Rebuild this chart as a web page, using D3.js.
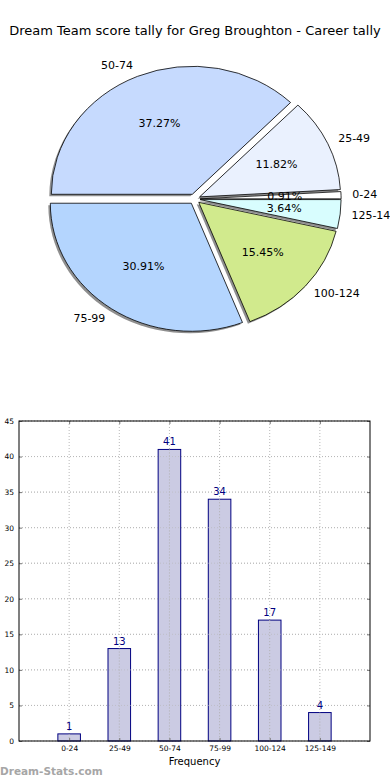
<!DOCTYPE html>
<html>
<head>
<meta charset="utf-8">
<script src="https://cdn.jsdelivr.net/npm/d3@7"></script>
<style>
  html, body { margin: 0; padding: 0; background: #fff; }
  svg { display: block; font-family: "DejaVu Sans", sans-serif; }
</style>
</head>
<body>
<svg id="chart" width="390" height="780"></svg>
<script>
const categories = ["0-24", "25-49", "50-74", "75-99", "100-124", "125-149"];
const counts = [1, 13, 41, 34, 17, 4];
const pieColors = ["#ffffff", "#eaf1fe", "#c6dafe", "#b4d5fe", "#d1ea8d", "#d8fdfe"];
const yTicks = [0, 5, 10, 15, 20, 25, 30, 35, 40, 45];
const titleText = "Dream Team score tally for Greg Broughton - Career tally";

const svg = d3.select("#chart");

// Title
svg.append("text")
  .attr("x", 195).attr("y", 30)
  .attr("text-anchor", "middle").attr("dominant-baseline", "central")
  .attr("font-size", 13).attr("fill", "#000")
  .text(titleText);

// ---------- Pie ----------
const cx = 194.5, cy = 199, rx = 141, ry = 128, explode = 0.04;
const total = d3.sum(counts);
const pie = d3.pie().sort(null).startAngle(Math.PI / 2).endAngle(Math.PI / 2 - 2 * Math.PI);
const arcs = pie(counts);
const arcGen = d3.arc().innerRadius(0).outerRadius(1);

function mid(d) { return (d.startAngle + d.endAngle) / 2; }
function off(d, k) {
  const m = mid(d);
  return [cx + k * rx * Math.sin(m), cy - k * ry * Math.cos(m)];
}

const pieG = svg.append("g");
pieG.selectAll("path.shadow").data(arcs).enter().append("path")
  .attr("class", "shadow")
  .attr("d", arcGen)
  .attr("transform", d => { const [px, py] = off(d, explode); return `translate(${px - 2},${py + 2}) scale(${rx},${ry})`; })
  .attr("fill", "#333").attr("fill-opacity", 0.55);
pieG.selectAll("path.wedge").data(arcs).enter().append("path")
  .attr("class", "wedge")
  .attr("d", arcGen)
  .attr("transform", d => { const [px, py] = off(d, explode); return `translate(${px},${py}) scale(${rx},${ry})`; })
  .attr("fill", (d, i) => pieColors[i])
  .attr("stroke", "#000").attr("stroke-width", 0.8)
  .attr("vector-effect", "non-scaling-stroke")
  .attr("stroke-linejoin", "round");

pieG.selectAll("text.lbl").data(arcs).enter().append("text")
  .attr("class", "lbl")
  .attr("x", d => off(d, 1.12)[0])
  .attr("y", d => off(d, 1.13)[1])
  .attr("text-anchor", d => Math.sin(mid(d)) >= 0 ? "start" : "end")
  .attr("dominant-baseline", "central")
  .attr("font-size", 11).attr("fill", "#000")
  .text((d, i) => categories[i]);

pieG.selectAll("text.pct").data(arcs).enter().append("text")
  .attr("class", "pct")
  .attr("x", d => off(d, 0.6 + explode)[0])
  .attr("y", d => off(d, 0.6 + explode)[1])
  .attr("text-anchor", "middle")
  .attr("dominant-baseline", "central")
  .attr("font-size", 11).attr("fill", "#000")
  .text(d => (d.value / total * 100).toFixed(2) + "%");

// ---------- Bar chart ----------
const axL = 19, axR = 370, axT = 421, axB = 741;
const x = d3.scaleLinear().domain([0, 7]).range([axL, axR]);
const y = d3.scaleLinear().domain([0, 45]).range([axB, axT]);
const barW = x(0.45) - x(0);

const g = svg.append("g");

g.selectAll("line.hgrid").data(yTicks).enter().append("line")
  .attr("x1", axL).attr("x2", axR)
  .attr("y1", d => y(d)).attr("y2", d => y(d))
  .attr("stroke", "#b8b8b8").attr("stroke-width", 1).attr("stroke-dasharray", "1,2");
g.selectAll("line.vgrid").data(categories).enter().append("line")
  .attr("x1", (d, i) => x(i + 1)).attr("x2", (d, i) => x(i + 1))
  .attr("y1", axT).attr("y2", axB)
  .attr("stroke", "#b8b8b8").attr("stroke-width", 1).attr("stroke-dasharray", "1,2");

g.selectAll("rect.bar").data(counts).enter().append("rect")
  .attr("x", (d, i) => x(i + 1) - barW / 2)
  .attr("y", d => y(d))
  .attr("width", barW)
  .attr("height", d => axB - y(d))
  .attr("fill", "#cbcbe3")
  .attr("stroke", "#000080").attr("stroke-width", 1);

g.selectAll("line.vgrid2").data(categories).enter().append("line")
  .attr("x1", (d, i) => x(i + 1)).attr("x2", (d, i) => x(i + 1))
  .attr("y1", (d, i) => y(counts[i])).attr("y2", axB)
  .attr("stroke", "#b0b0b0").attr("stroke-width", 1).attr("stroke-dasharray", "1,2");
g.selectAll("line.hgrid2").data(yTicks.filter(t => t > 0)).enter().append("line")
  .attr("x1", axL).attr("x2", axR)
  .attr("y1", d => y(d)).attr("y2", d => y(d))
  .attr("stroke", "#b8b8b8").attr("stroke-width", 1).attr("stroke-dasharray", "1,2")
  .attr("stroke-opacity", 0.6);

g.selectAll("text.val").data(counts).enter().append("text")
  .attr("x", (d, i) => x(i + 1))
  .attr("y", d => y(d) - 4)
  .attr("text-anchor", "middle")
  .attr("font-size", 10).attr("fill", "#000080")
  .text(d => d);

const yAxisL = d3.axisLeft(y).tickValues(yTicks).tickSizeInner(-3).tickSizeOuter(0).tickPadding(5);
const yAxisR = d3.axisRight(y).tickValues(yTicks).tickSizeInner(-3).tickSizeOuter(0).tickFormat("");
const xAxisB = d3.axisBottom(x).tickValues(d3.range(1, 7)).tickSizeInner(-3).tickSizeOuter(0).tickPadding(5)
  .tickFormat(d => categories[d - 1]);
const xAxisT = d3.axisTop(x).tickValues(d3.range(1, 7)).tickSizeInner(-3).tickSizeOuter(0).tickFormat("");

function styleAxis(sel) {
  sel.select(".domain").remove();
  sel.selectAll(".tick line").attr("stroke", "#777");
  sel.selectAll(".tick text").attr("font-size", 7.5).attr("fill", "#000").attr("font-family", "DejaVu Sans, sans-serif");
}
g.append("g").attr("transform", `translate(${axL},0)`).call(yAxisL).call(styleAxis);
g.append("g").attr("transform", `translate(${axR},0)`).call(yAxisR).call(styleAxis);
g.append("g").attr("transform", `translate(0,${axB})`).call(xAxisB).call(styleAxis);
g.append("g").attr("transform", `translate(0,${axT})`).call(xAxisT).call(styleAxis);

g.append("rect")
  .attr("x", axL).attr("y", axT)
  .attr("width", axR - axL).attr("height", axB - axT)
  .attr("fill", "none").attr("stroke", "#000").attr("stroke-width", 1);

svg.append("text")
  .attr("x", (axL + axR) / 2).attr("y", 761)
  .attr("text-anchor", "middle").attr("dominant-baseline", "central")
  .attr("font-size", 10).attr("fill", "#000")
  .text("Frequency");

svg.append("text")
  .attr("x", 0).attr("y", 771)
  .attr("dominant-baseline", "central")
  .attr("font-size", 10.5).attr("font-weight", "bold").attr("fill", "#a6a6a6")
  .text("Dream-Stats.com");
</script>
</body>
</html>
